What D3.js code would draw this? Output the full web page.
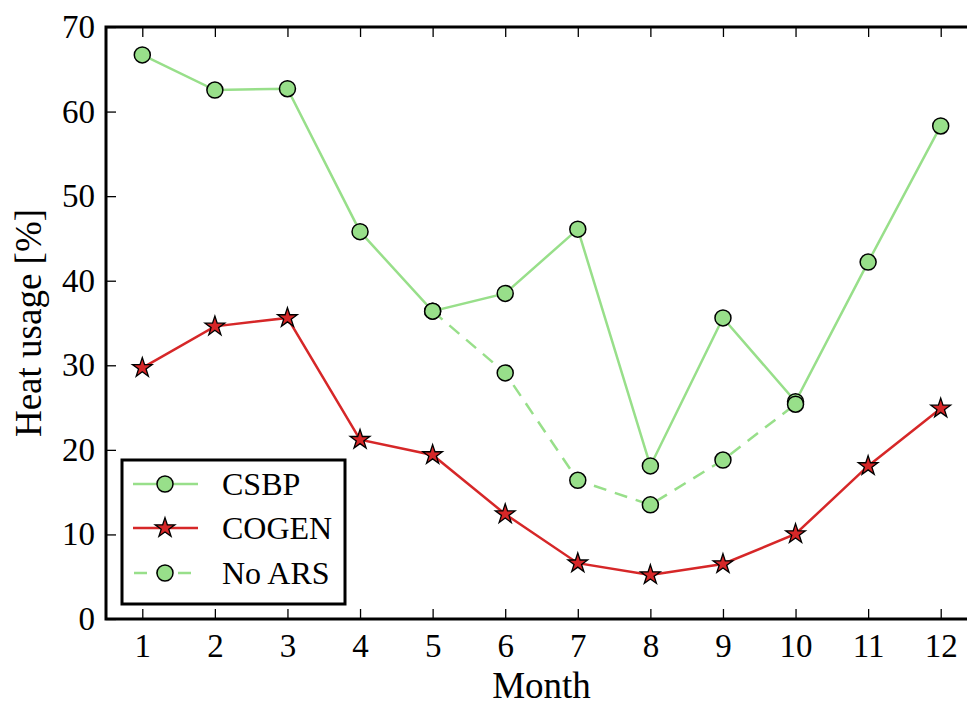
<!DOCTYPE html>
<html>
<head>
<meta charset="utf-8">
<script src="https://cdn.jsdelivr.net/npm/d3@7"></script>
<style>
  html, body { margin: 0; padding: 0; background: #ffffff; }
  svg { display: block; }
  text { font-family: "Liberation Serif", "Times New Roman", serif; fill: #000; }
</style>
</head>
<body>
<svg id="chart" width="967" height="706"></svg>
<script>
const months = [1, 2, 3, 4, 5, 6, 7, 8, 9, 10, 11, 12];
const csbp = [66.7, 62.55, 62.7, 45.8, 36.4, 38.5, 46.1, 18.1, 35.6, 25.7, 42.2, 58.3];
const cogen = [29.7, 34.6, 35.6, 21.2, 19.4, 12.4, 6.6, 5.2, 6.5, 10.05, 18.1, 24.9];
const noArsMonths = [5, 6, 7, 8, 9, 10];
const noArs = [36.4, 29.1, 16.4, 13.5, 18.8, 25.4];
const yTicks = [0, 10, 20, 30, 40, 50, 60, 70];
const xLabel = "Month";
const yLabel = "Heat usage [%]";
const seriesNames = ["CSBP", "COGEN", "No ARS"];

const green = "#98df8a";
const red = "#d62728";

const svg = d3.select("#chart");
const m = { left: 106, top: 27, right: 977, bottom: 619 };

const x = d3.scaleLinear().domain([0.5, 12.5]).range([m.left, m.right]);
const y = d3.scaleLinear().domain([0, 70]).range([m.bottom, m.top]);

const tickFont = 33;
const labelFont = 37;

// Axes (inward ticks)
const gx = svg.append("g").attr("transform", `translate(0,${m.bottom})`)
  .call(d3.axisBottom(x).tickValues(months).tickSize(-10).tickPadding(15).tickFormat(d3.format("d")));
const gxTop = svg.append("g").attr("transform", `translate(0,${m.top})`)
  .call(d3.axisTop(x).tickValues(months).tickSize(-10).tickFormat(""));
const gy = svg.append("g").attr("transform", `translate(${m.left},0)`)
  .call(d3.axisLeft(y).tickValues(yTicks).tickSize(-10).tickPadding(11).tickFormat(d3.format("d")));

[gx, gxTop, gy].forEach(g => {
  g.attr("font-family", null);
  g.select(".domain").remove();
  g.selectAll(".tick line").attr("stroke", "#000").attr("stroke-width", 1.3);
  g.selectAll(".tick text").style("font-size", tickFont + "px");
});

// Frame spines
svg.append("rect")
  .attr("x", m.left).attr("y", m.top)
  .attr("width", m.right - m.left).attr("height", m.bottom - m.top)
  .attr("fill", "none").attr("stroke", "#000").attr("stroke-width", 3);

// Axis labels
svg.append("text")
  .attr("x", (m.left + m.right) / 2).attr("y", 698)
  .attr("text-anchor", "middle").style("font-size", labelFont + "px")
  .text(xLabel);
svg.append("text")
  .attr("transform", `translate(41,${(m.top + m.bottom) / 2}) rotate(-90)`)
  .attr("text-anchor", "middle").style("font-size", labelFont + "px")
  .text(yLabel);

const line = d3.line().x(d => x(d[0])).y(d => y(d[1]));
const plot = svg.append("g");

const csbpPts = months.map((mm, i) => [mm, csbp[i]]);
const cogenPts = months.map((mm, i) => [mm, cogen[i]]);
const noArsPts = noArsMonths.map((mm, i) => [mm, noArs[i]]);

const starSym = d3.symbol().type(d3.symbolStar).size(120);
const dash = "13,9";

function drawCircles(pts) {
  plot.append("g").selectAll("circle").data(pts).join("circle")
    .attr("cx", d => x(d[0])).attr("cy", d => y(d[1])).attr("r", 8)
    .attr("fill", green).attr("stroke", "#000").attr("stroke-width", 1.5);
}

// CSBP
plot.append("path").datum(csbpPts).attr("d", line)
  .attr("fill", "none").attr("stroke", green).attr("stroke-width", 2.5);
drawCircles(csbpPts);

// COGEN
plot.append("path").datum(cogenPts).attr("d", line)
  .attr("fill", "none").attr("stroke", red).attr("stroke-width", 2.5);
plot.append("g").selectAll("path").data(cogenPts).join("path")
  .attr("d", starSym)
  .attr("transform", d => `translate(${x(d[0])},${y(d[1])})`)
  .attr("fill", red).attr("stroke", "#000").attr("stroke-width", 1.3);

// No ARS
plot.append("path").datum(noArsPts).attr("d", line)
  .attr("fill", "none").attr("stroke", green).attr("stroke-width", 2.5)
  .attr("stroke-dasharray", dash);
drawCircles(noArsPts);

// Legend
const lg = svg.append("g");
lg.append("rect").attr("x", 122).attr("y", 460).attr("width", 223).attr("height", 144)
  .attr("fill", "#fff").attr("stroke", "#000").attr("stroke-width", 3);
const rowsY = [484, 528, 573];
seriesNames.forEach((name, i) => {
  const ry = rowsY[i];
  const col = i === 1 ? red : green;
  if (i === 2) {
    lg.append("line").attr("x1", 134).attr("x2", 198).attr("y1", ry).attr("y2", ry)
      .attr("stroke", col).attr("stroke-width", 2.5).attr("stroke-dasharray", dash);
  } else {
    lg.append("line").attr("x1", 133).attr("x2", 198).attr("y1", ry).attr("y2", ry)
      .attr("stroke", col).attr("stroke-width", 2.5);
  }
  if (i === 1) {
    lg.append("path").attr("d", starSym).attr("transform", `translate(165,${ry})`)
      .attr("fill", red).attr("stroke", "#000").attr("stroke-width", 1.3);
  } else {
    lg.append("circle").attr("cx", 165).attr("cy", ry).attr("r", 8)
      .attr("fill", green).attr("stroke", "#000").attr("stroke-width", 1.5);
  }
  lg.append("text").attr("x", 222).attr("y", ry).attr("dy", "0.35em")
    .style("font-size", "32px").text(name);
});
</script>
</body>
</html>
